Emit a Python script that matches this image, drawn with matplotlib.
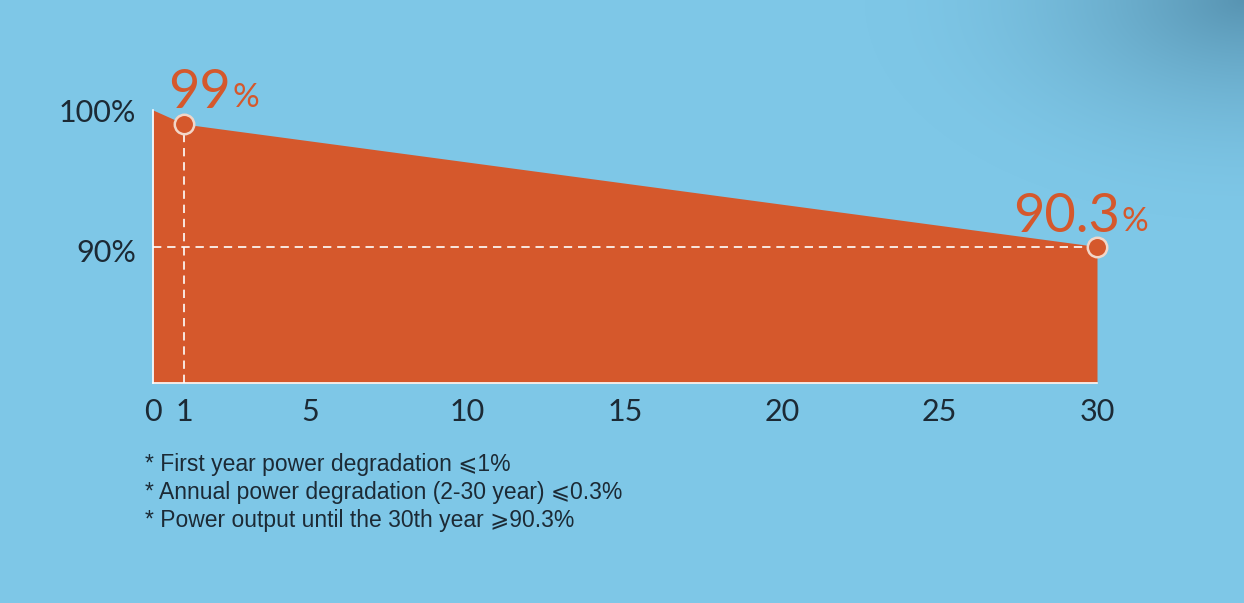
import numpy as np
import matplotlib
matplotlib.use("Agg")
import matplotlib.pyplot as plt

# data
years = [0, 1, 30]
output_pct = [100, 99, 90.3]
marked_years = [1, 30]
marked_pct = [99, 90.3]
marked_labels = ["99", "90.3"]
x_ticks = [0, 1, 5, 10, 15, 20, 25, 30]
y_ticks = [90, 100]
y_tick_labels = ["90%", "100%"]
notes = [
    "* First year power degradation \u2a7d1%",
    "* Annual power degradation (2-30 year) \u2a7d0.3%",
    "* Power output until the 30th year \u2a7e90.3%",
]

orange = "#d5582c"
dark = "#1c2a35"
W, H = 1244, 603

fig = plt.figure(figsize=(W / 100, H / 100), dpi=100)

# background: sky blue with a slightly darker top-right corner
bg = fig.add_axes([0, 0, 1, 1], zorder=-10)
yy, xx = np.mgrid[0:H, 0:W]
d = np.sqrt(((xx - W) / 380.0) ** 2 + (yy / 220.0) ** 2)
shade = np.clip(1 - d, 0, 1) ** 1.8
base = np.array([126, 199, 231]) / 255.0
corner = np.array([88, 148, 178]) / 255.0
img = base[None, None, :] * (1 - shade[..., None]) + corner[None, None, :] * shade[..., None]
bg.imshow(img, aspect="auto", extent=[0, 1, 0, 1])
bg.axis("off")

ax = fig.add_axes([153 / W, 220 / H, 944 / W, 273 / H])
ax.set_facecolor("none")
ax.set_xlim(0, 30)
ax.set_ylim(80.6, 100)

ax.fill_between(years, output_pct, 80.6, color=orange, lw=0, zorder=1)

# guide lines
ax.plot([1, 1], [80.6, 99], color="white", lw=1.2, ls=(0, (5, 3.5)), zorder=2)
ax.plot([0, 30], [90.3, 90.3], color="white", lw=1.2, ls=(0, (5, 3.5)), zorder=2)

ax.plot(marked_years, marked_pct, ls="none", marker="o", ms=14,
        mfc=orange, mec="#f2d6c8", mew=1.8, zorder=4, clip_on=False)

for s in ["top", "right"]:
    ax.spines[s].set_visible(False)
ax.spines["left"].set_color("white")
ax.spines["bottom"].set_color("white")
ax.spines["left"].set_linewidth(1.2)
ax.spines["bottom"].set_linewidth(1.2)

ax.set_xticks(x_ticks)
ax.set_xticklabels([str(t) for t in x_ticks])
ax.set_yticks(y_ticks)
ax.set_yticklabels(y_tick_labels)
ax.tick_params(length=0, labelsize=22, labelcolor=dark)
ax.tick_params(axis="x", pad=11)
ax.tick_params(axis="y", pad=12)
for lab in ax.get_xticklabels() + ax.get_yticklabels():
    lab.set_family("Lato")

# value labels: big number + small percent sign
offsets = [(-16, 16), (-84, 14)]
for x, y, txt, off in zip(marked_years, marked_pct, marked_labels, offsets):
    t = ax.annotate(txt, (x, y), xytext=off, textcoords="offset pixels",
                    color=orange, fontsize=39, family="Lato", va="baseline", ha="left")
    ax.annotate("%", xy=(1, 0), xycoords=t, xytext=(1, 3), textcoords="offset points",
                color=orange, fontsize=24, family="Lato", va="bottom", ha="left")

for i, note in enumerate(notes):
    fig.text(145 / W, 1 - (465 + 28 * i) / H, note, fontsize=16.5, color=dark,
             family=["Liberation Sans", "DejaVu Sans"], va="center", ha="left")

fig.savefig("out.png", dpi=100)
